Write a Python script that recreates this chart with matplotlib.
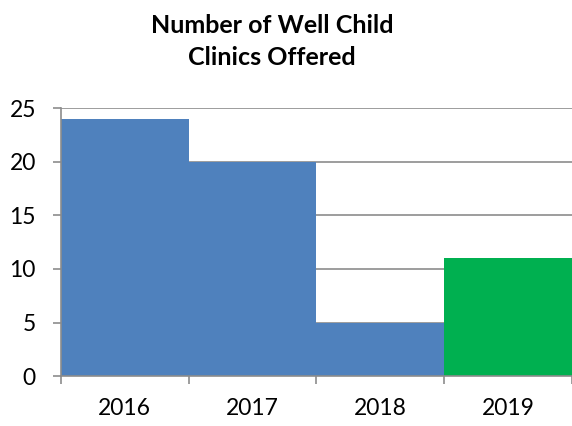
import matplotlib
matplotlib.use("Agg")
import matplotlib.pyplot as plt

years = ["2016", "2017", "2018", "2019"]
clinics = [24, 20, 5, 11]
colors = ["#4F81BD", "#4F81BD", "#4F81BD", "#00B050"]
yticks = [0, 5, 10, 15, 20, 25]

plt.rcParams['font.family'] = ['Lato', 'DejaVu Sans']

fig = plt.figure(figsize=(5.72, 4.26), dpi=100)
ax = fig.add_axes([0.1066, 0.117, 0.8934, 0.629])

x = list(range(len(years)))
ax.bar(x, clinics, width=1.0, color=colors, zorder=2)
ax.set_xlim(-0.5, len(years) - 0.5)
ax.set_ylim(0, 25)
ax.set_yticks(yticks)
ax.set_yticklabels([str(v) for v in yticks], fontsize=16.5)
ax.yaxis.grid(True, color="#8C8C8C", linewidth=1.2, zorder=0)
ax.set_axisbelow(True)

ax.set_xticks(x)
ax.set_xticklabels(years, fontsize=16.5)
ax.tick_params(axis='x', which='major', length=0, pad=16)
ax.set_xticks([i - 0.5 for i in range(len(years) + 1)], minor=True)
ax.tick_params(axis='x', which='minor', length=6, width=1.2, color="#8C8C8C", direction='out')
ax.tick_params(axis='y', length=6, width=1.2, color="#8C8C8C", pad=12)

for s in ["top", "right"]:
    ax.spines[s].set_visible(False)
for s in ["left", "bottom"]:
    ax.spines[s].set_color("#8C8C8C")
    ax.spines[s].set_linewidth(1.2)

fig.text(0.476, 0.966, "Number of Well Child\nClinics Offered", ha="center", va="top",
         fontsize=18, fontweight="bold", linespacing=1.45)

fig.savefig("out.png", dpi=100)
